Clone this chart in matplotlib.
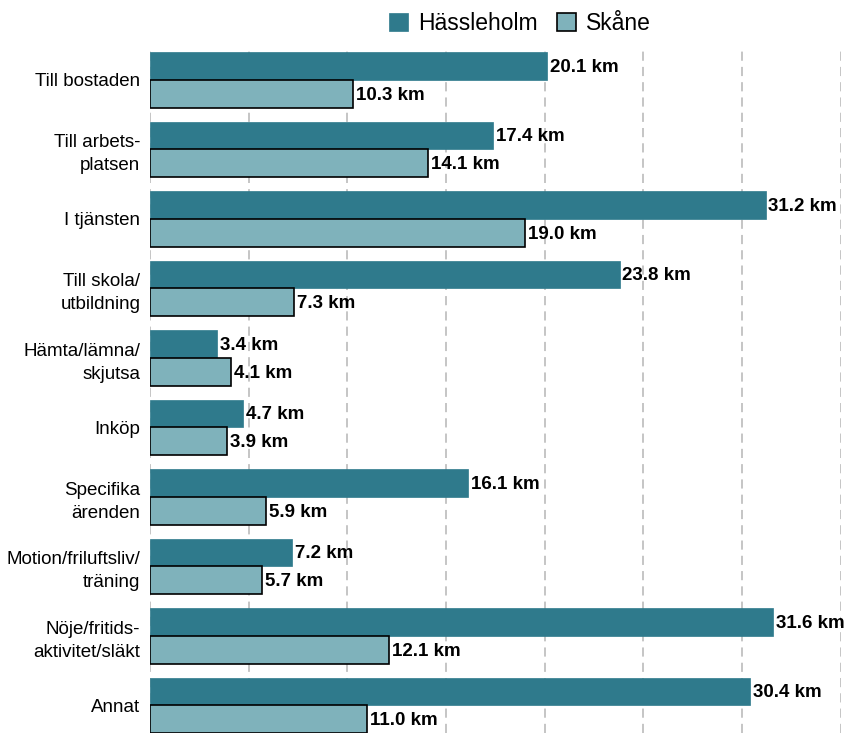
import matplotlib.pyplot as plt
import numpy as np

plt.rcParams['font.family'] = ['Liberation Sans', 'DejaVu Sans']

categories = ["Till bostaden", "Till arbets-\nplatsen", "I tjänsten", "Till skola/\nutbildning",
              "Hämta/lämna/\nskjutsa", "Inköp", "Specifika\närenden", "Motion/friluftsliv/\nträning",
              "Nöje/fritids-\naktivitet/släkt", "Annat"]
hassleholm = [20.1, 17.4, 31.2, 23.8, 3.4, 4.7, 16.1, 7.2, 31.6, 30.4]
skane = [10.3, 14.1, 19.0, 7.3, 4.1, 3.9, 5.9, 5.7, 12.1, 11.0]

dark = '#2f7a8c'
light = '#7fb2bb'

fig = plt.figure(figsize=(8.47, 7.33), dpi=100)
ax = fig.add_axes([150 / 847, 0, (840.5 - 150) / 847, 1 - 48 / 733])

y = np.arange(len(categories))
h = 0.4
b1 = ax.barh(y - h / 2, hassleholm, height=h, color=dark, edgecolor=dark, linewidth=0.5,
             label='Hässleholm', zorder=3)
b2 = ax.barh(y + h / 2, skane, height=h, color=light, edgecolor='black', linewidth=1.2,
             label='Skåne', zorder=3)

for bars, vals in [(b1, hassleholm), (b2, skane)]:
    for bar, v in zip(bars, vals):
        ax.text(bar.get_width() + 0.15, bar.get_y() + bar.get_height() / 2 + 0.02, f'{v:.1f} km',
                va='center', ha='left', fontsize=13.5, fontweight='bold', zorder=4)

ax.set_xlim(0, 35)
ax.set_ylim(9.396, -0.46)
ax.set_xticks(np.arange(0, 36, 5))
ax.set_xticklabels([])
ax.set_yticks(y)
ax.set_yticklabels(categories, fontsize=13.5, linespacing=1.45)
ax.tick_params(axis='both', length=0, pad=7)
ax.grid(axis='x', color='#b5b5b5', linestyle=(0, (6, 4)), linewidth=1.1, zorder=0)
for s in ax.spines.values():
    s.set_visible(False)

fig.legend(handles=[b1, b2], labels=['Hässleholm', 'Skåne'], loc='upper center',
           bbox_to_anchor=(520 / 847, 1.012), ncol=2, frameon=False, fontsize=16.5,
           handlelength=0.85, handleheight=0.85, handletextpad=0.45, columnspacing=0.8)

fig.savefig('out.png', dpi=100)
